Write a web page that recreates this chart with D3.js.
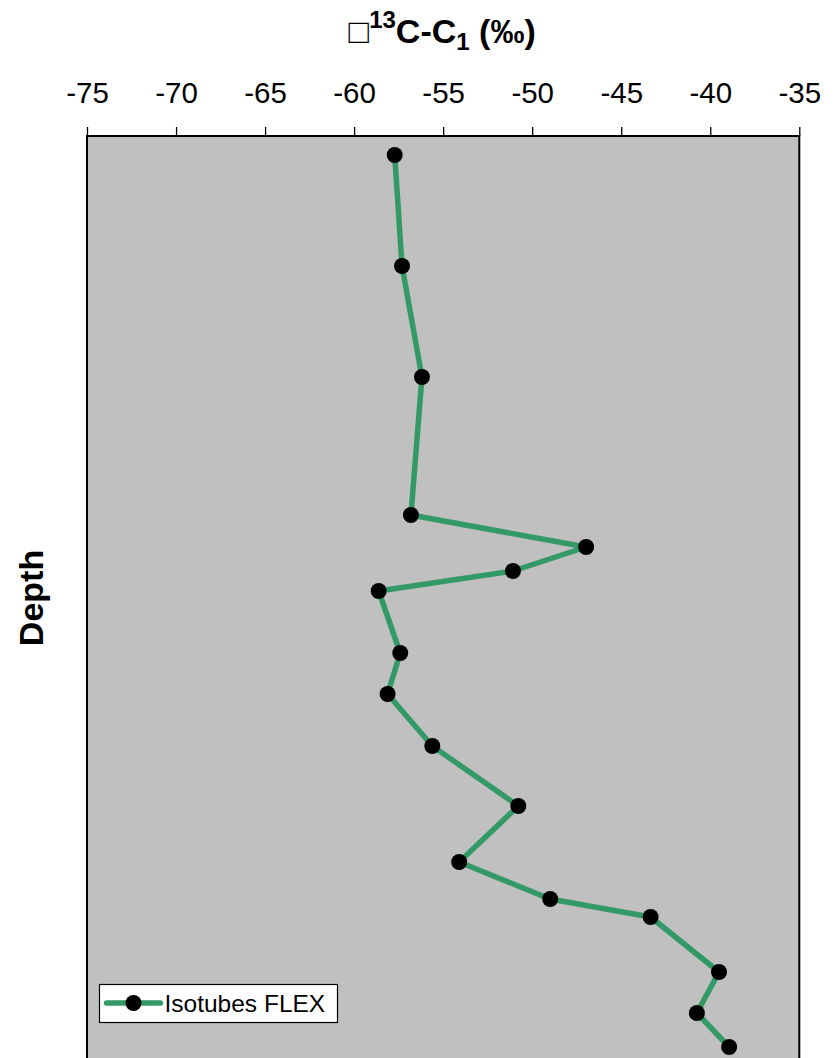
<!DOCTYPE html>
<html>
<head>
<meta charset="utf-8">
<script src="https://cdn.jsdelivr.net/npm/d3@7"></script>
<style>
  html, body { margin: 0; padding: 0; background: #ffffff; }
  svg { display: block; font-family: "Liberation Sans", Arial, sans-serif; }
</style>
</head>
<body>
<svg id="chart" width="838" height="1058"></svg>
<script>
// Carbon isotope ratio of methane (‰) versus depth, Isotubes FLEX profile
const depth = [1.9, 13.0, 24.1, 37.9, 41.1, 43.5, 45.5, 51.7, 55.8, 61.0, 67.0, 72.6, 76.3, 78.1, 83.6, 87.7, 91.1];
const delta13C = [-57.72, -57.31, -56.19, -56.81, -46.97, -51.08, -58.62, -57.41, -58.12, -55.61, -50.78, -54.10, -48.99, -43.35, -39.51, -40.75, -38.94];
const xTicks = [-75, -70, -65, -60, -55, -50, -45, -40, -35];
const seriesName = "Isotubes FLEX";

const svg = d3.select("#chart");
const plotLeft = 87, plotRight = 799.3, plotTop = 136, plotBottom = 1136;

const x = d3.scaleLinear().domain([-75, -35]).range([plotLeft, plotRight]);
const y = d3.scaleLinear().domain([0, 100]).range([plotTop, plotBottom]);

// plot area
svg.append("rect")
  .attr("x", plotLeft).attr("y", plotTop)
  .attr("width", plotRight - plotLeft).attr("height", plotBottom - plotTop)
  .attr("fill", "#c0c0c0")
  .attr("stroke", "#000").attr("stroke-width", 2);

// top value axis
const axis = svg.append("g")
  .attr("transform", `translate(0,${plotTop})`)
  .call(d3.axisTop(x).tickValues(xTicks).tickSize(9).tickSizeOuter(0).tickPadding(24).tickFormat(d3.format("d")));
axis.select(".domain").remove();
axis.selectAll(".tick line").attr("stroke", "#000").attr("stroke-width", 1.3);
axis.selectAll(".tick text")
  .attr("font-size", 29.5).attr("fill", "#000")
  .attr("font-family", "Liberation Sans, Arial, sans-serif")
  .text(d => d < 0 ? "-" + Math.abs(d) : d);

// axis title
const title = svg.append("text")
  .attr("x", (plotLeft + plotRight) / 2 - 1).attr("y", 43)
  .attr("text-anchor", "middle")
  .attr("font-size", 34).attr("font-weight", "bold").attr("fill", "#000");
title.append("tspan").text("\u25A1");
title.append("tspan").attr("font-size", 24).attr("dy", -15).text("13");
title.append("tspan").attr("dy", 15).text("C-C");
title.append("tspan").attr("font-size", 24).attr("dy", 7).text("1");
title.append("tspan").attr("dy", -7).text(" (\u2030)");

svg.append("text")
  .attr("transform", "translate(43,598) rotate(-90)")
  .attr("text-anchor", "middle")
  .attr("font-size", 34).attr("font-weight", "bold").attr("fill", "#000")
  .text("Depth");

// profile line and markers
const pts = depth.map((d, i) => ({ depth: d, v: delta13C[i] }));
const line = d3.line().x(d => x(d.v)).y(d => y(d.depth));
svg.append("path")
  .datum(pts)
  .attr("d", line)
  .attr("fill", "none")
  .attr("stroke", "#339966")
  .attr("stroke-width", 5.5)
  .attr("stroke-linejoin", "round");
svg.selectAll("circle.pt")
  .data(pts)
  .join("circle")
  .attr("class", "pt")
  .attr("cx", d => x(d.v)).attr("cy", d => y(d.depth))
  .attr("r", 8).attr("fill", "#000");

// legend
const lg = svg.append("g").attr("transform", "translate(99.5,984.5)");
lg.append("rect").attr("width", 238).attr("height", 38)
  .attr("fill", "#fff").attr("stroke", "#000").attr("stroke-width", 1.2);
lg.append("line").attr("x1", 7).attr("x2", 61).attr("y1", 18.5).attr("y2", 18.5)
  .attr("stroke", "#339966").attr("stroke-width", 5.5).attr("stroke-linecap", "round");
lg.append("circle").attr("cx", 34).attr("cy", 18.5).attr("r", 8).attr("fill", "#000");
lg.append("text").attr("x", 65).attr("y", 27)
  .attr("font-size", 24.5).attr("fill", "#000").text(seriesName);
</script>
</body>
</html>
